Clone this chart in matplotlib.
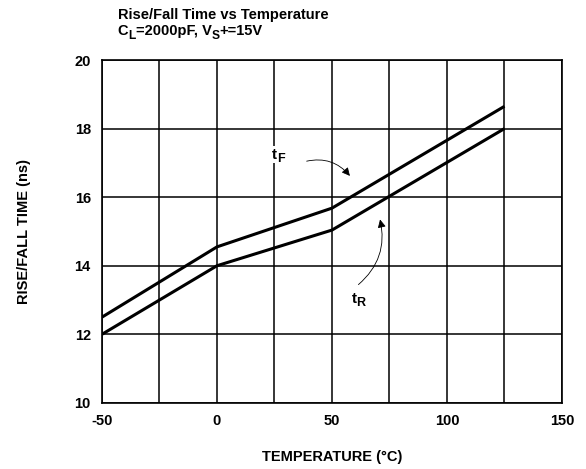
import matplotlib.pyplot as plt
from matplotlib import transforms

plt.rcParams['font.family'] = ['Liberation Sans', 'DejaVu Sans']
plt.rcParams['font.weight'] = 'bold'
plt.rcParams['axes.unicode_minus'] = False

# data
temps = [-50, 0, 50, 125]
t_fall = [12.5, 14.55, 15.68, 18.65]
t_rise = [12.0, 14.0, 15.04, 18.0]

x_ticks = [-50, 0, 50, 100, 150]
y_ticks = [10, 12, 14, 16, 18, 20]

fig = plt.figure(figsize=(5.86, 4.69), dpi=100)
ax = fig.add_axes([0.174, 0.141, 0.785, 0.731])
renderer = fig.canvas.get_renderer()


def sub_text(x, y, parts, size, transform, bbox=None):
    """Write text pieces one after another; (text, True) is a subscript."""
    dx = 0.0
    for i, (s, is_sub) in enumerate(parts):
        fs = size * 0.82 if is_sub else size
        dy = -size * 0.32 if is_sub else 0.0
        tr = transforms.offset_copy(transform, fig=fig, x=dx, y=dy,
                                    units='dots')
        t = fig.text(x, y, s, fontsize=fs, fontweight='bold', ha='left',
                     va='baseline', transform=tr, zorder=5 + i)
        if bbox is not None and i == 0:
            t.set_bbox(bbox)
        dx += t.get_window_extent(renderer).width


ax.plot(temps, t_fall, color='black', linewidth=2.2, solid_capstyle='butt')
ax.plot(temps, t_rise, color='black', linewidth=2.2, solid_capstyle='butt')

ax.set_xlim(-50, 150)
ax.set_ylim(10, 20)
ax.set_xticks(x_ticks)
ax.set_xticks(range(-50, 151, 25), minor=True)
ax.set_yticks(y_ticks)
ax.grid(which='major', color='black', linewidth=1.1)
ax.grid(which='minor', axis='x', color='black', linewidth=1.1)
ax.tick_params(which='both', length=0, labelsize=10.5, pad=8)
for sp in ax.spines.values():
    sp.set_linewidth(1.2)

ax.set_xlabel('TEMPERATURE (°C)', fontsize=10.5, fontweight='bold',
              labelpad=16)
ax.set_ylabel('RISE/FALL TIME (ns)', fontsize=10.5, fontweight='bold',
              labelpad=31)

fig.text(0.201, 0.968, 'Rise/Fall Time vs Temperature', fontsize=10.5,
         fontweight='bold', ha='left', va='center')
sub_text(0.201, 0.925, [('C', False), ('L', True), ('=2000pF, V', False),
                        ('S', True), ('+=15V', False)], 10.5, fig.transFigure)

arrow = dict(arrowstyle='-|>', color='black', linewidth=0.6,
             mutation_scale=12, shrinkA=0, shrinkB=0)
white = dict(facecolor='white', edgecolor='none', pad=1.0)
sub_text(24.0, 17.12, [('t', False), ('F', True)], 11, ax.transData,
         bbox=white)
ax.annotate('', xy=(57.8, 16.62), xytext=(39.0, 17.05),
            arrowprops=dict(arrow, connectionstyle='arc3,rad=-0.3'))
sub_text(58.5, 12.92, [('t', False), ('R', True)], 11, ax.transData,
         bbox=white)
ax.annotate('', xy=(70.9, 15.35), xytext=(61.5, 13.45),
            arrowprops=dict(arrow, connectionstyle='arc3,rad=0.3'))

fig.savefig('out.png', dpi=100, facecolor='white')
